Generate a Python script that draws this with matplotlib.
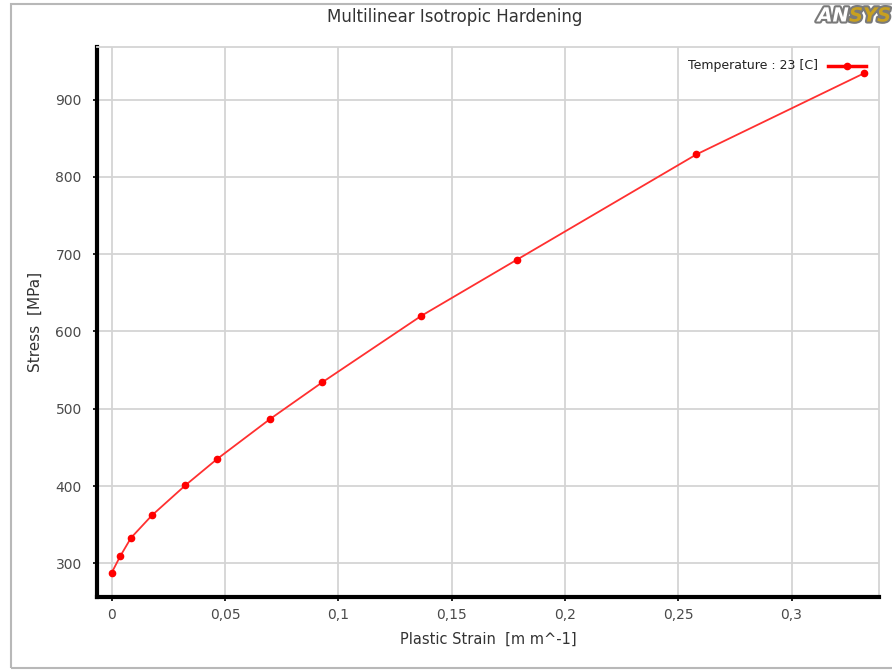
import matplotlib
matplotlib.use("Agg")
import matplotlib.pyplot as plt
from matplotlib.patches import Rectangle
import matplotlib.patheffects as pe
from matplotlib.lines import Line2D

strain = [0.0, 0.0037, 0.0085, 0.0177, 0.0325, 0.0465, 0.0700, 0.0928,
          0.1365, 0.1789, 0.2580, 0.3320]
stress = [288, 309, 333, 362, 401, 435, 487, 534, 620, 693, 829, 934]
xticks = [0, 0.05, 0.1, 0.15, 0.2, 0.25, 0.3]
xticklabels = ["0", "0,05", "0,1", "0,15", "0,2", "0,25", "0,3"]
yticks = [300, 400, 500, 600, 700, 800, 900]
series_label = "Temperature : 23 [C]"

fig = plt.figure(figsize=(8.92, 6.71), dpi=100)
fig.patch.set_facecolor("white")

# outer frame
fig.add_artist(Rectangle((11 / 892, 3 / 671), 1.0, 1 - 7 / 671, transform=fig.transFigure,
                         fill=False, edgecolor="#b8b8b8", linewidth=1.5))

ax = fig.add_axes([97 / 892, 1 - 597 / 671, (879 - 97) / 892, (597 - 47) / 671])
ax.set_xlim(-0.0065, 0.3386)
ax.set_ylim(256.5, 968)

ax.plot(strain, stress, color="#ff3030", linewidth=1.3, marker="o",
        markersize=4.5, markerfacecolor="#ff0000", markeredgecolor="#ff0000", zorder=3)

ax.set_xticks(xticks)
ax.set_xticklabels(xticklabels)
ax.set_yticks(yticks)
ax.grid(True, color="#d4d4d4", linewidth=1.3)
ax.set_axisbelow(True)

for s in ["left", "bottom"]:
    ax.spines[s].set_linewidth(3)
    ax.spines[s].set_color("black")
for s in ["top", "right"]:
    ax.spines[s].set_linewidth(1.3)
    ax.spines[s].set_color("#d4d4d4")

ax.tick_params(axis="both", direction="out", length=3, width=1.2, color="black",
               labelsize=10, labelcolor="#4a4a4a", pad=5)
ax.tick_params(axis="y", pad=8)

ax.set_xlabel("Plastic Strain  [m m^-1]", fontsize=10.5, color="#333333", labelpad=7)
ax.set_ylabel("Stress  [MPa]", fontsize=11, color="#333333", labelpad=9)

fig.text(455 / 892, 1 - 17 / 671, "Multilinear Isotropic Hardening", ha="center",
         va="center", fontsize=12, color="#333333")

# legend entry
fig.text(818 / 892, 1 - 66 / 671, series_label, ha="right", va="center",
         fontsize=9, color="#222222")
fig.add_artist(Line2D([828 / 892, 866 / 892], [1 - 66 / 671, 1 - 66 / 671],
                      transform=fig.transFigure, color="#ff0000", linewidth=2.5))
fig.add_artist(Line2D([847 / 892], [1 - 66 / 671], transform=fig.transFigure,
                      color="#ff0000", marker="o", markersize=4.5, linestyle="none"))

# logo
t1 = fig.text(849 / 892, 1 - 16 / 671, "AN", ha="right", va="center", fontsize=14,
              fontweight="bold", fontstyle="italic", color="white", family="DejaVu Sans")
t1.set_path_effects([pe.withStroke(linewidth=3, foreground="#7a7a7a")])
t2 = fig.text(849 / 892, 1 - 16 / 671, "SYS", ha="left", va="center", fontsize=14,
              fontweight="bold", fontstyle="italic", color="#c8a020", family="DejaVu Sans")
t2.set_path_effects([pe.withStroke(linewidth=3, foreground="#7a7a7a")])

fig.savefig("out.png", dpi=100, facecolor="white")
